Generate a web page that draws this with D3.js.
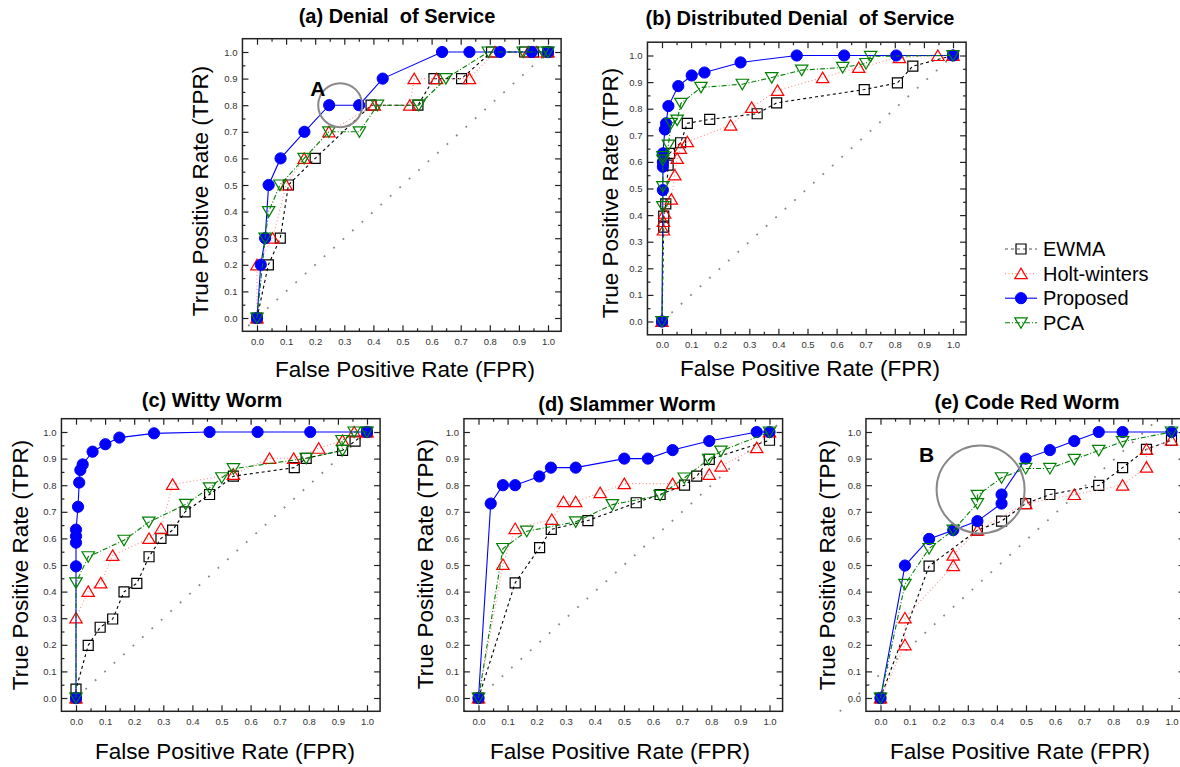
<!DOCTYPE html>
<html lang="en">
<head>
<meta charset="UTF-8">
<title>ROC curves</title>
<script src="https://cdn.jsdelivr.net/npm/d3@7"></script>
<style>
  html, body { margin: 0; padding: 0; background: #fff; }
  svg { display: block; font-family: "Liberation Sans", Arial, sans-serif; }
  .tick text { fill: #333; font-size: 9.5px; }
  .tick line { stroke: #222; }
</style>
</head>
<body>
<div id="chart"></div>
<script>
// series names, in legend order
const seriesNames = ["EWMA", "Holt-winters", "Proposed", "PCA"];
const tickValues = [0, 0.1, 0.2, 0.3, 0.4, 0.5, 0.6, 0.7, 0.8, 0.9, 1.0];
const minorTicks = [0.05, 0.15, 0.25, 0.35, 0.45, 0.55, 0.65, 0.75, 0.85, 0.95];

// (a) Denial of Service  -- [FPR, TPR]
const dosEwma = [[0,0],[0.039,0.2],[0.08,0.3],[0.108,0.5],[0.2,0.6],[0.392,0.8],[0.553,0.8],[0.608,0.9],[0.703,0.9],[0.806,1],[0.92,1],[0.95,1],[1,1]];
const dosHolt = [[0,0],[0,0.2],[0.054,0.3],[0.1,0.5],[0.162,0.6],[0.247,0.7],[0.403,0.8],[0.525,0.8],[0.54,0.9],[0.617,0.9],[0.73,0.9],[0.818,1],[0.932,1],[0.961,1],[1,1]];
const dosProposed = [[0,0],[0.013,0.2],[0.028,0.3],[0.04,0.5],[0.081,0.6],[0.163,0.7],[0.248,0.8],[0.351,0.8],[0.432,0.9],[0.636,1],[0.73,1],[0.835,1],[0.944,1],[1,1]];
const dosPca = [[0,0],[0.028,0.3],[0.04,0.4],[0.079,0.5],[0.162,0.6],[0.247,0.7],[0.352,0.7],[0.414,0.8],[0.556,0.8],[0.649,0.9],[0.795,1],[0.915,1],[0.984,1],[1,1]];

// (b) Distributed Denial of Service
const ddosEwma = [[0,0],[0.006,0.355],[0.006,0.396],[0.013,0.442],[0.021,0.588],[0.026,0.632],[0.064,0.672],[0.087,0.745],[0.164,0.76],[0.327,0.781],[0.394,0.822],[0.695,0.872],[0.809,0.897],[0.862,0.96],[1,1]];
const ddosHolt = [[0,0],[0.005,0.344],[0.005,0.376],[0.009,0.407],[0.032,0.46],[0.044,0.551],[0.052,0.613],[0.063,0.651],[0.087,0.676],[0.236,0.738],[0.308,0.805],[0.397,0.869],[0.552,0.917],[0.676,0.955],[0.816,0.992],[0.948,1],[1,1]];
const ddosProposed = [[0,0],[0.003,0.494],[0.003,0.582],[0.003,0.6],[0.003,0.632],[0.01,0.722],[0.014,0.745],[0.022,0.81],[0.056,0.885],[0.102,0.925],[0.146,0.936],[0.27,0.974],[0.463,1],[0.626,1],[0.805,1],[1,1]];
const ddosPca = [[0,0],[0.003,0.432],[0.003,0.507],[0.003,0.607],[0.003,0.62],[0.022,0.663],[0.031,0.745],[0.052,0.757],[0.065,0.82],[0.134,0.88],[0.276,0.892],[0.377,0.917],[0.48,0.945],[0.621,0.955],[0.701,0.97],[0.717,0.997],[1,1]];

// (c) Witty Worm
const wittyEwma = [[0,0],[0,0.033],[0.042,0.198],[0.083,0.266],[0.126,0.297],[0.165,0.399],[0.209,0.431],[0.251,0.531],[0.292,0.6],[0.332,0.631],[0.375,0.7],[0.459,0.765],[0.541,0.834],[0.75,0.866],[0.791,0.901],[0.916,0.931],[0.959,0.966],[1,1]];
const wittyHolt = [[0,0],[0,0.301],[0.042,0.401],[0.085,0.433],[0.126,0.536],[0.251,0.6],[0.292,0.637],[0.332,0.803],[0.541,0.841],[0.665,0.901],[0.748,0.901],[0.834,0.939],[0.916,0.968],[0.956,1],[1,1]];
const wittyProposed = [[0,0],[0,0.495],[0,0.584],[0,0.608],[0,0.633],[0.007,0.719],[0.011,0.81],[0.015,0.857],[0.023,0.878],[0.057,0.926],[0.101,0.954],[0.149,0.979],[0.268,0.995],[0.459,1],[0.624,1],[0.805,1],[1,1]];
const wittyPca = [[0,0],[0,0.433],[0.042,0.531],[0.165,0.593],[0.25,0.661],[0.377,0.728],[0.459,0.79],[0.501,0.828],[0.541,0.862],[0.791,0.901],[0.916,0.931],[0.914,0.968],[0.956,1],[1,1]];

// (d) Slammer Worm
const slamEwma = [[0,0],[0.126,0.433],[0.21,0.565],[0.25,0.634],[0.376,0.667],[0.542,0.734],[0.624,0.765],[0.708,0.8],[0.75,0.834],[0.793,0.897],[1,0.969]];
const slamHolt = [[0,0],[0.084,0.502],[0.126,0.637],[0.252,0.671],[0.292,0.738],[0.334,0.738],[0.418,0.772],[0.501,0.806],[0.667,0.806],[0.793,0.841],[0.834,0.872],[0.956,0.941],[1,1]];
const slamProposed = [[0,0],[0.042,0.731],[0.084,0.8],[0.126,0.8],[0.209,0.833],[0.249,0.866],[0.334,0.866],[0.501,0.9],[0.582,0.9],[0.667,0.932],[0.793,0.966],[0.956,1],[1,1]];
const slamPca = [[0,0],[0.084,0.562],[0.166,0.627],[0.334,0.662],[0.46,0.727],[0.624,0.762],[0.707,0.827],[0.791,0.897],[0.833,0.928],[1,1]];

// (e) Code Red Worm
const codeEwma = [[0,0],[0.167,0.496],[0.333,0.631],[0.416,0.665],[0.499,0.731],[0.582,0.765],[0.75,0.799],[0.832,0.866],[0.914,0.935],[1,0.969]];
const codeHolt = [[0,0],[0.084,0.2],[0.084,0.301],[0.25,0.498],[0.25,0.537],[0.333,0.631],[0.499,0.731],[0.666,0.765],[0.832,0.8],[0.914,0.868],[0.914,0.935],[1,0.969]];
const codeProposed = [[0,0],[0.084,0.498],[0.167,0.598],[0.25,0.631],[0.333,0.665],[0.416,0.731],[0.416,0.765],[0.499,0.9],[0.582,0.932],[0.666,0.966],[0.75,1],[0.832,1],[1,1]];
const codePca = [[0,0],[0.084,0.427],[0.167,0.562],[0.25,0.631],[0.333,0.731],[0.333,0.762],[0.416,0.828],[0.499,0.863],[0.582,0.863],[0.666,0.897],[0.75,0.931],[0.832,0.964],[1,1]];

// look of each series (same order as seriesNames)
const styles = [
  { line: "#000", dash: "3,3", mark: "square", stroke: "#000", fill: "none" },
  { line: "#ff8c8c", dash: "1,2.5", mark: "up", stroke: "#f00", fill: "none" },
  { line: "#0000ff", dash: null, mark: "circle", stroke: "#0000ff", fill: "#0000ff" },
  { line: "#008000", dash: "5,2,1,2", mark: "down", stroke: "#008000", fill: "none" }
];

// panel layout: ox/oy = pixel of (0,0)
const panels = [
  { title: "(a) Denial\u00a0 of Service", ox: 257, oy: 318, tx: 397, ty: 23, ytx: 208, yty: 191, xtx: 405, xty: 377,
    series: [dosEwma, dosHolt, dosProposed, dosPca], diag: [[-0.03, -0.03], [1.04, 1.04]],
    note: { label: "A", lx: 0.209, ly: 0.862, cx: 0.286, cy: 0.8, r: 22 } },
  { title: "(b) Distributed Denial\u00a0 of Service", ox: 662, oy: 321.5, tx: 800, ty: 25, ytx: 618, yty: 193, xtx: 810, xty: 376,
    series: [ddosEwma, ddosHolt, ddosProposed, ddosPca], diag: [[0.0, 0.0], [1.03, 1.03]] },
  { title: "(c) Witty Worm", ox: 76, oy: 698, tx: 212, ty: 407, ytx: 28, yty: 565, xtx: 225, xty: 759,
    series: [wittyEwma, wittyHolt, wittyProposed, wittyPca], diag: [[0.0, 0.0], [1.03, 1.03]] },
  { title: "(d) Slammer Worm", ox: 478.5, oy: 698, tx: 627, ty: 411, ytx: 433, yty: 564, xtx: 620, xty: 759,
    series: [slamEwma, slamHolt, slamProposed, slamPca], diag: [[-0.05, -0.05], [1.03, 1.03]] },
  { title: "(e) Code Red Worm", ox: 880.5, oy: 698, tx: 1027, ty: 409, ytx: 835, yty: 565, xtx: 1020, xty: 759,
    series: [codeEwma, codeHolt, codeProposed, codePca], diag: [[-0.14, -0.05], [0.945, 1.04]],
    note: { label: "B", lx: 0.158, ly: 0.916, cx: 0.344, cy: 0.784, r: 44 } }
];

const pxX = 291, pxY = 266;
const lo = -0.05, hiX = 1.045, hiY = 1.05;

const svg = d3.select("#chart").append("svg")
  .attr("width", 1180)
  .attr("height", 767);

function markerPath(type) {
  if (type === "square") return "M-5,-5H5V5H-5Z";
  if (type === "up") return "M0,-5.5L6.2,5L-6.2,5Z";
  if (type === "down") return "M0,5.5L6.2,-5L-6.2,-5Z";
  return null;
}

function drawMarker(g, st, x, y) {
  if (st.mark === "circle") {
    g.append("circle").attr("cx", x).attr("cy", y).attr("r", 5.6)
      .attr("fill", st.fill).attr("stroke", st.stroke);
  } else {
    g.append("path").attr("d", markerPath(st.mark))
      .attr("transform", "translate(" + x + "," + y + ")")
      .attr("fill", st.fill).attr("stroke", st.stroke).attr("stroke-width", 1.2);
  }
}

panels.forEach(function (p) {
  const x = d3.scaleLinear().domain([0, 1]).range([p.ox, p.ox + pxX]);
  const y = d3.scaleLinear().domain([0, 1]).range([p.oy, p.oy - pxY]);
  const left = x(lo), right = x(hiX), top = y(hiY), bottom = y(lo);
  const g = svg.append("g");

  // ticks, all pointing into the frame
  const fmt = d3.format(".1f");
  g.append("g").attr("transform", "translate(0," + bottom + ")")
    .call(d3.axisBottom(x).tickValues(tickValues).tickFormat(fmt).tickSize(-6).tickPadding(6.5));
  g.append("g").attr("transform", "translate(0," + bottom + ")")
    .call(d3.axisBottom(x).tickValues(minorTicks).tickFormat("").tickSize(-3));
  g.append("g").attr("transform", "translate(0," + top + ")")
    .call(d3.axisTop(x).tickValues(tickValues).tickFormat("").tickSize(-6));
  g.append("g").attr("transform", "translate(0," + top + ")")
    .call(d3.axisTop(x).tickValues(minorTicks).tickFormat("").tickSize(-3));
  g.append("g").attr("transform", "translate(" + left + ",0)")
    .call(d3.axisLeft(y).tickValues(tickValues).tickFormat(fmt).tickSize(-6).tickPadding(5));
  g.append("g").attr("transform", "translate(" + left + ",0)")
    .call(d3.axisLeft(y).tickValues(minorTicks).tickFormat("").tickSize(-3));
  g.append("g").attr("transform", "translate(" + right + ",0)")
    .call(d3.axisRight(y).tickValues(tickValues).tickFormat("").tickSize(-6));
  g.append("g").attr("transform", "translate(" + right + ",0)")
    .call(d3.axisRight(y).tickValues(minorTicks).tickFormat("").tickSize(-3));
  g.selectAll(".domain").remove();
  g.selectAll(".tick line").attr("stroke-width", 1.2);

  // chance diagonal
  g.append("line")
    .attr("x1", x(p.diag[0][0])).attr("y1", y(p.diag[0][1]))
    .attr("x2", x(p.diag[1][0])).attr("y2", y(p.diag[1][1]))
    .attr("stroke", "#888").attr("stroke-width", 1.8)
    .attr("stroke-dasharray", "1.8,11");

  const line = d3.line().x(function (d) { return x(d[0]); }).y(function (d) { return y(d[1]); });

  p.series.forEach(function (data, i) {
    const st = styles[i];
    const sg = g.append("g");
    sg.append("path").datum(data).attr("d", line)
      .attr("fill", "none").attr("stroke", st.line).attr("stroke-width", 1.1)
      .attr("stroke-dasharray", st.dash);
    data.forEach(function (d) { drawMarker(sg, st, x(d[0]), y(d[1])); });
  });

  // frame
  g.append("rect").attr("x", left).attr("y", top)
    .attr("width", right - left).attr("height", bottom - top)
    .attr("fill", "none").attr("stroke", "#222").attr("stroke-width", 1.5);

  if (p.note) {
    g.append("circle").attr("cx", x(p.note.cx)).attr("cy", y(p.note.cy)).attr("r", p.note.r)
      .attr("fill", "none").attr("stroke", "#888").attr("stroke-width", 2);
    g.append("text").attr("x", x(p.note.lx)).attr("y", y(p.note.ly))
      .attr("text-anchor", "middle").attr("dominant-baseline", "central")
      .attr("font-size", 21).attr("font-weight", "bold").text(p.note.label);
  }

  // titles
  svg.append("text").attr("x", p.tx).attr("y", p.ty).attr("text-anchor", "middle")
    .attr("font-size", 20).attr("font-weight", "bold").text(p.title);
  svg.append("text").attr("x", p.xtx).attr("y", p.xty).attr("text-anchor", "middle")
    .attr("font-size", 22.5).text("False Positive Rate (FPR)");
  svg.append("text").attr("transform", "translate(" + p.ytx + "," + p.yty + ") rotate(-90)")
    .attr("text-anchor", "middle").attr("font-size", 22.5).text("True Positive Rate (TPR)");
});

// legend
const legend = svg.append("g");
seriesNames.forEach(function (name, i) {
  const st = styles[i];
  const cy = 249 + i * 24.6;
  legend.append("line").attr("x1", 1005).attr("x2", 1037).attr("y1", cy).attr("y2", cy)
    .attr("stroke", i === 0 ? "#555" : st.line).attr("stroke-width", 1.1)
    .attr("stroke-dasharray", st.dash);
  drawMarker(legend, st, 1021, cy);
  legend.append("text").attr("x", 1043).attr("y", cy + 7).attr("font-size", 20).text(name);
});
</script>
</body>
</html>
